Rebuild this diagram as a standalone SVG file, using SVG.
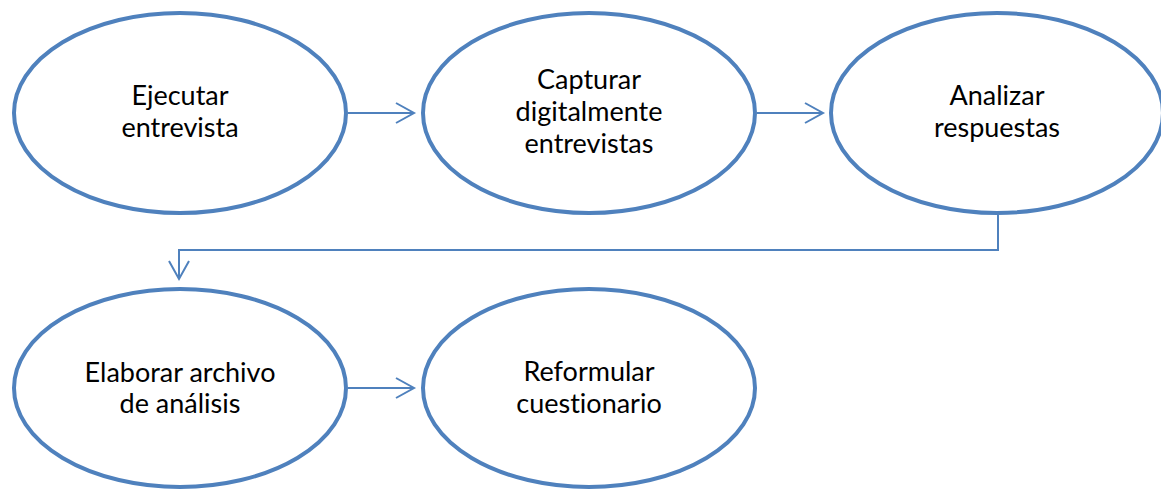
<svg xmlns="http://www.w3.org/2000/svg" width="1161" height="489" viewBox="0 0 1161 489">
  <style>
    .node { fill: #ffffff; stroke: #4F81BD; stroke-width: 4; }
    .lbl { font-family: Lato, "Liberation Sans", sans-serif; font-size: 27px; fill: #000000; text-anchor: middle; font-variant-ligatures: none; }
    .conn { fill: none; stroke: #4F81BD; stroke-width: 2; }
  </style>
  <defs>
    <marker id="arr" markerUnits="userSpaceOnUse" markerWidth="24" markerHeight="24" viewBox="-20 -12 24 24" refX="0" refY="0" orient="auto">
      <path d="M-18,-10 L0,0 L-18,10" fill="none" stroke="#4F81BD" stroke-width="2"/>
    </marker>
  </defs>
  <rect width="1161" height="489" fill="#ffffff"/>
  <g id="connectors">
    <line class="conn" x1="348" y1="113" x2="414" y2="113" marker-end="url(#arr)"/>
    <line class="conn" x1="757" y1="113" x2="823" y2="113" marker-end="url(#arr)"/>
    <path class="conn" d="M998,215 L998,250 L179,250 L179,279" marker-end="url(#arr)"/>
    <line class="conn" x1="348" y1="388" x2="414" y2="388" marker-end="url(#arr)"/>
  </g>
  <g id="n1">
    <ellipse class="node" cx="180" cy="113" rx="166" ry="100"/>
    <text class="lbl" x="180" y="105">Ejecutar</text>
    <text class="lbl" x="180" y="137">entrevista</text>
  </g>
  <g id="n2">
    <ellipse class="node" cx="589" cy="113" rx="166" ry="100"/>
    <text class="lbl" x="589" y="89">Capturar</text>
    <text class="lbl" x="589" y="121">digitalmente</text>
    <text class="lbl" x="589" y="153">entrevistas</text>
  </g>
  <g id="n3">
    <ellipse class="node" cx="997" cy="113" rx="166" ry="100"/>
    <text class="lbl" x="997" y="105">Analizar</text>
    <text class="lbl" x="997" y="137">respuestas</text>
  </g>
  <g id="n4">
    <ellipse class="node" cx="180" cy="388" rx="166" ry="99"/>
    <text class="lbl" x="180" y="382">Elaborar archivo</text>
    <text class="lbl" x="180" y="413">de análisis</text>
  </g>
  <g id="n5">
    <ellipse class="node" cx="589" cy="388" rx="166" ry="99"/>
    <text class="lbl" x="589" y="381">Reformular</text>
    <text class="lbl" x="589" y="413">cuestionario</text>
  </g>
</svg>
